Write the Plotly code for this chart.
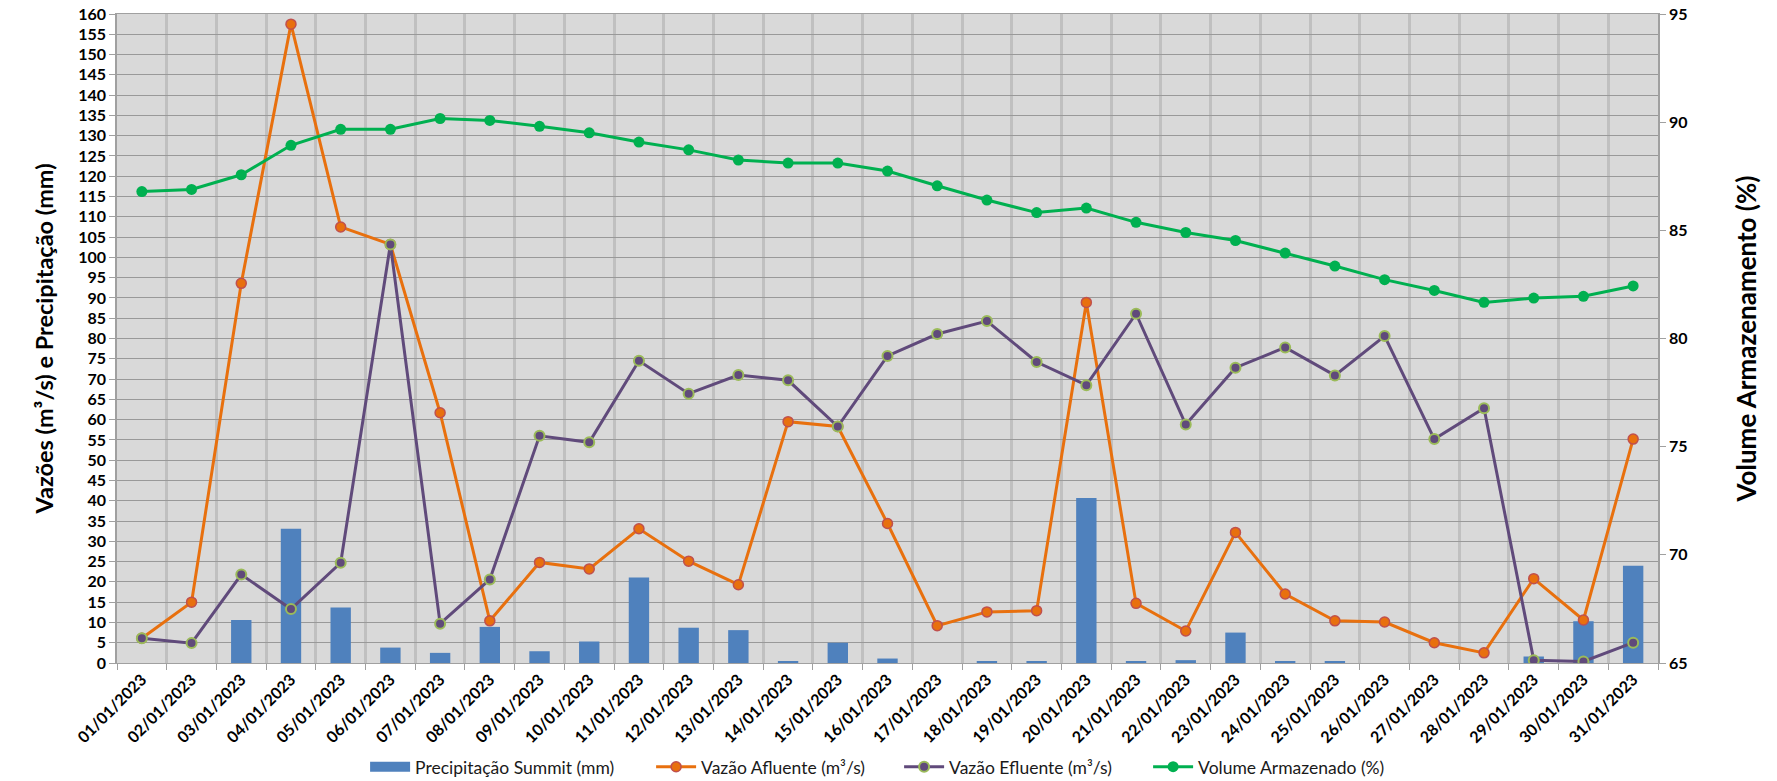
import plotly.graph_objects as go

dates = [f"{d:02d}/01/2023" for d in range(1, 32)]
day_pos = list(range(1, 32))

precipitacao = [0, 0, 10.6, 33.1, 13.7, 3.8, 2.5, 8.9, 2.9, 5.3,
                21.1, 8.7, 8.1, 0.3, 5.0, 1.1, 0, 0.3, 0.3, 40.7,
                0.3, 0.7, 7.5, 0.4, 0.3, 0, 0, 0, 1.6, 10.3, 24.0]

vazao_afluente = [6.1, 15.0, 93.6, 157.5, 107.5, 103.2, 61.7, 10.4, 24.8, 23.2,
                  33.1, 25.1, 19.3, 59.5, 58.3, 34.4, 9.2, 12.6, 12.9, 88.9,
                  14.7, 7.9, 32.2, 17.0, 10.4, 10.1, 5.0, 2.5, 20.8, 10.6, 55.2]

vazao_efluente = [6.1, 4.9, 21.8, 13.3, 24.7, 103.2, 9.7, 20.6, 56.0, 54.4,
                  74.5, 66.4, 71.0, 69.7, 58.3, 75.7, 81.1, 84.3, 74.2, 68.5,
                  86.1, 58.8, 72.8, 77.8, 70.9, 80.6, 55.2, 62.8, 0.7, 0.4, 5.0]

volume = [86.79, 86.89, 87.57, 88.93, 89.67, 89.67, 90.17, 90.08, 89.81, 89.51,
          89.08, 88.72, 88.25, 88.11, 88.11, 87.74, 87.06, 86.40, 85.82, 86.03,
          85.37, 84.90, 84.53, 83.95, 83.35, 82.72, 82.22, 81.67, 81.87, 81.95, 82.43]

boundaries = [i + 0.5 for i in range(0, 32)]

FONT = "Lato"
BAR_NAME = "Precipitação Summit (mm)"

fig = go.Figure()

# legend-only entry to show the wide rectangular swatch of the bar series
fig.add_trace(go.Scatter(
    x=[None], y=[None], name=BAR_NAME, mode="lines",
    line=dict(color="#4f81bd", width=13), legendgroup="precip",
    legendwidth=231, hoverinfo="skip",
))

fig.add_trace(go.Bar(
    x=day_pos, y=precipitacao, name=BAR_NAME, showlegend=False,
    legendgroup="precip",
    marker=dict(color="#4f81bd", line=dict(width=0)), width=0.41,
))

fig.add_trace(go.Scatter(
    x=day_pos, y=vazao_afluente, name="Vazão Afluente (m³/s)",
    mode="lines+markers", legendwidth=193,
    line=dict(color="#e8700e", width=3),
    marker=dict(size=10, color="#e8700e", line=dict(color="#c0504d", width=1.5)),
))

fig.add_trace(go.Scatter(
    x=day_pos, y=vazao_efluente, name="Vazão Efluente (m³/s)",
    mode="lines+markers", legendwidth=194,
    line=dict(color="#604a7b", width=3),
    marker=dict(size=10, color="#604a7b", line=dict(color="#9bbb59", width=2)),
))

fig.add_trace(go.Scatter(
    x=day_pos, y=volume, name="Volume Armazenado (%)", yaxis="y2",
    mode="lines+markers", legendwidth=195,
    line=dict(color="#00b050", width=3),
    marker=dict(size=11, color="#00b050"),
))

fig.update_layout(
    width=1769, height=773,
    margin=dict(l=109, r=119, t=6, b=118, autoexpand=False),
    paper_bgcolor="white",
    plot_bgcolor="#d9d9d9",
    font=dict(family=FONT, color="black"),
    xaxis=dict(
        range=[0.5, 31.5],
        tickmode="array", tickvals=day_pos, ticktext=dates,
        tickangle=-45,
        tickfont=dict(family=FONT, size=16, color="black", weight="bold"),
        showgrid=False, ticks="",
        showline=True, linecolor="#a0a0a0", linewidth=1,
        mirror=True, automargin=False,
        minor=dict(tickmode="array", tickvals=boundaries, showgrid=True,
                   gridcolor="#c0c0c0", gridwidth=3, ticks="outside",
                   ticklen=6, tickcolor="#a0a0a0"),
        zeroline=False,
    ),
    yaxis=dict(
        range=[0, 160], dtick=5, tick0=0,
        tickfont=dict(family=FONT, size=16, color="black", weight="bold"),
        ticklabeloverflow="allow",
        showgrid=True, gridcolor="#999999", gridwidth=1.3,
        ticks="outside", ticklen=6, tickcolor="#a0a0a0",
        showline=True, linecolor="#a0a0a0", linewidth=1.5,
        zeroline=False, automargin=False,
        title=dict(text="Vazões (m³/s) e Precipitação (mm)",
                   font=dict(family=FONT, size=23.5, color="black", weight="bold"),
                   standoff=18),
    ),
    yaxis2=dict(
        range=[65, 95], dtick=5, tick0=65,
        overlaying="y", side="right",
        tickfont=dict(family=FONT, size=16, color="black", weight="bold"),
        ticklabeloverflow="allow",
        showgrid=False, zeroline=False, automargin=False,
        ticks="outside", ticklen=6, tickcolor="#a0a0a0",
        showline=True, linecolor="#a0a0a0", linewidth=1.5,
        title=dict(text="Volume Armazenamento (%)",
                   font=dict(family=FONT, size=26, color="black", weight="bold"),
                   standoff=51),
    ),
    legend=dict(
        orientation="h", x=0.161, xanchor="left", y=-0.160, yanchor="middle",
        font=dict(family=FONT, size=17.5, color="#1a1a1a"),
        bgcolor="rgba(0,0,0,0)", itemwidth=40,
    ),
)

fig.write_html("out.html")
